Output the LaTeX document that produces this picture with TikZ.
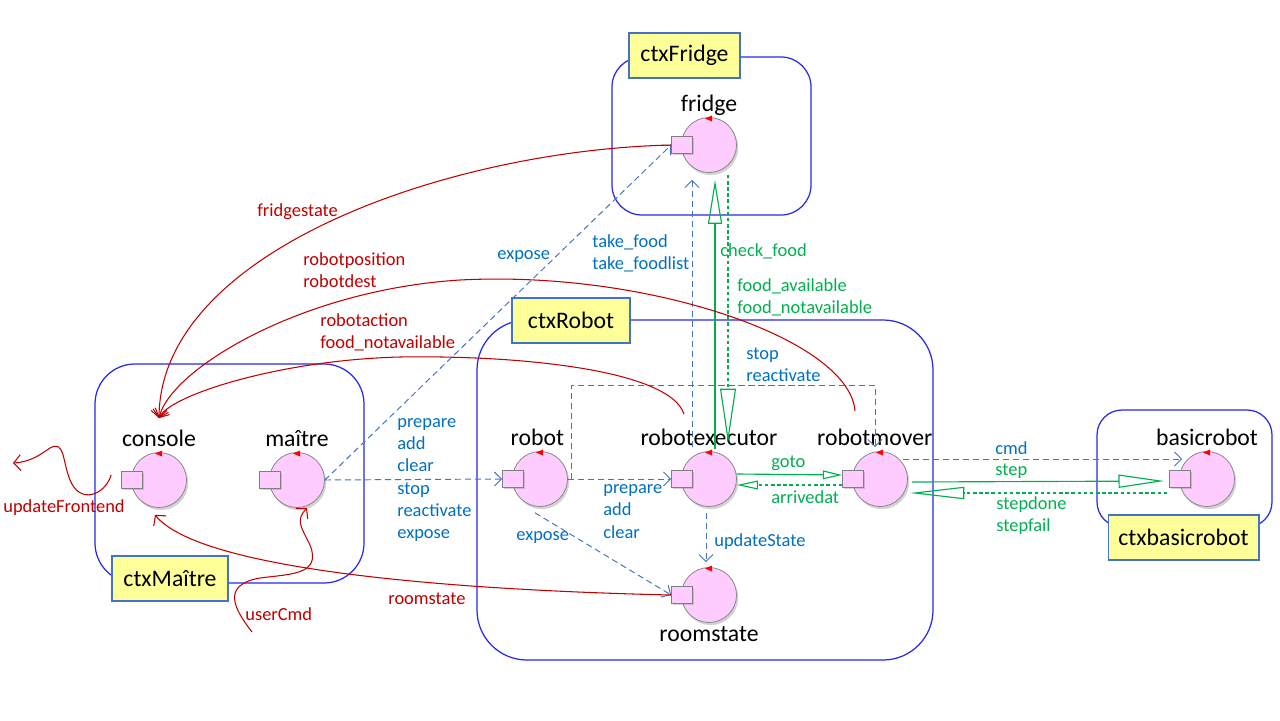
\documentclass[tikz,border=0pt]{standalone}
\usepackage{fontspec}
\setmainfont{Carlito}
\usetikzlibrary{positioning}
\usetikzlibrary{calc}
\usetikzlibrary{arrows.meta}
\usetikzlibrary{shadows}

\definecolor{ctxblue}{RGB}{40,40,235}
\definecolor{tagfill}{RGB}{255,255,153}
\definecolor{tagline}{RGB}{68,114,196}
\definecolor{actfill}{RGB}{255,204,255}
\definecolor{actline}{RGB}{127,127,127}
\definecolor{msgline}{RGB}{68,114,196}
\definecolor{msgtext}{RGB}{0,112,192}
\definecolor{evtgreen}{RGB}{0,176,80}
\definecolor{dispred}{RGB}{192,0,0}

\begin{document}
\begin{tikzpicture}[x=0.02cm, y=-0.02cm,
    actor/.style={circle, draw=actline, fill=actfill, minimum size=1.1cm, inner sep=0pt,
      drop shadow={shadow xshift=1pt, shadow yshift=-1.5pt, opacity=0.35}},
    port/.style={rectangle, draw=actline, fill=actfill, minimum width=0.42cm, minimum height=0.34cm, inner sep=0pt,
      drop shadow={shadow xshift=0.8pt, shadow yshift=-0.8pt, opacity=0.35}},
    actorname/.style={font=\fontsize{13.5}{16}\selectfont, inner sep=1pt, text depth=0.21em},
    ctx/.style={draw=ctxblue, line width=0.7pt},
    tag/.style={draw=tagline, fill=tagfill, font=\fontsize{13.5}{16}\selectfont, line width=0.6pt, inner sep=0pt, minimum height=0.9cm},
    txt/.style={font=\fontsize{10.5}{12.7}\selectfont, anchor=west, align=left, inner sep=0pt},
    msg/.style={draw=msgline, line width=0.55pt, dash pattern=on 3.5pt off 2.2pt, -{Straight Barb[length=4pt, width=8pt]}},
    evt/.style 2 args={draw=evtgreen, line width=0.65pt, -{Triangle[open, length=#1, width=#2]}},
    emit/.style 2 args={evt={#1}{#2}, dash pattern=on 2pt off 1.5pt},
    disp/.style={draw=dispred, line width=0.6pt, -{Straight Barb[length=4pt, width=9pt]}}]

        \path[fill=white] (0,0) rectangle (1280,720);
        \useasboundingbox (0,0) rectangle (1280,720);

        % contexts
        \draw[ctx, rounded corners=0.6cm] (612,57) rectangle (811,215);
        \draw[ctx, rounded corners=0.8cm] (95,364) rectangle (364,583);
        \draw[ctx, rounded corners=1cm] (477,320) rectangle (933,660);
        \draw[ctx, rounded corners=0.5cm] (1097,410) rectangle (1272,527);

        \node[tag, minimum width=2.22cm] (tag-fridge) at (684.5,55.5) {ctxFridge};
        \node[tag, minimum width=2.32cm] (tag-maitre) at (170,578.5) {ctxMaître};
        \node[tag, minimum width=2.36cm] (tag-robot) at (571,320.5) {ctxRobot};
        \node[tag, minimum width=3.02cm] (tag-basic) at (1183.5,537.5) {ctxbasicrobot};

        % actors
        \foreach \n/\x/\y in {fridge/709/145, console/159/480, maitre/297/480, robot/540/479,
                              executor/709/479, mover/880/479, roomstate/709/595, basicrobot/1207/479} {
          \node[actor] (\n) at (\x,\y) {};
          \node[port] (\n-port) at ($(\n)+(-27,0)$) {};
          \fill[red] ($(\n)+(-4,-26.5)$) -- ($(\n)+(3,-29.5)$) -- ($(\n)+(3,-23.5)$) -- cycle;
        }

        \node[actorname, above=0pt of fridge] (fridge-name) {fridge};
        \node[actorname, above=0pt of console] (console-name) {console};
        \node[actorname, above=0pt of maitre] (maitre-name) {maître};
        \node[actorname, above=0pt of robot, xshift=-1.5pt] (robot-name) {robot};
        \node[actorname, above=0pt of executor] (executor-name) {robotexecutor};
        \node[actorname, above=0pt of mover, xshift=-3pt] (mover-name) {robotmover};
        \node[actorname, above=0pt of basicrobot] (basicrobot-name) {basicrobot};
        \node[actorname, below=1pt of roomstate] (roomstate-name) {roomstate};

        \coordinate (user) at (252,632);
        \coordinate (frontend) at (13,463);

        % requests and dispatches
        \draw[msg] (maitre.east) -- (fridge-port.west);
        \draw[msg] (maitre.east) -- (robot-port.west);
        \draw[msg] ($(executor.north)+(-17,-4)$) -- ($(fridge.south)+(-17,7)$);
        \draw[msg] (robot.east) -- (executor-port.west);
        \draw[msg] ($(robot.east)+(4,0)$) |- ($(mover.north)+(-5,-66)$) -- ($(mover.north)+(-5,-4)$);
        \draw[msg] ($(robot.south)+(-5,6)$) -- (roomstate-port.west);
        \draw[msg] ($(executor.south)+(-3,6)$) -- ($(roomstate.north)+(-3,-5)$);
        \draw[msg] ($(mover.east)+(-5,-20)$) -- ($(basicrobot.west)+(3,-20)$);

        % events and replies
        \draw[evt={25pt}{8pt}] ($(executor.north)+(6,-2)$) -- ($(fridge.south)+(6,7)$);
        \draw[emit={31pt}{9pt}] ($(fridge.south)+(19,2)$) -- ($(executor.north)+(19,-8)$);
        \draw[evt={11pt}{5pt}] ($(executor.east)+(0,-5)$) -- ($(mover-port.west)+(0,-4)$);
        \draw[emit={12pt}{5pt}] ($(mover-port.west)+(0,6)$) -- ($(executor.east)+(0,6)$);
        \draw[evt={26pt}{7.5pt}] ($(mover.east)+(4,3)$) -- ($(basicrobot-port.west)+(-5,2)$);
        \draw[emit={31pt}{7pt}] ($(basicrobot-port.west)+(-2,14)$) -- ($(mover.east)+(2,14)$);

        % updates to the console
        \draw[disp] (fridge-port.west) .. controls (450,150) and (160,250) .. ($(console.north)+(0,-34)$);
        \draw[disp] ($(mover.north)+(-25,-40)$) .. controls (850,340) and (650,270) .. (460,280)
                    .. controls (300,290) and (170,370) .. ($(console.north)+(0,-34)$);
        \draw[disp] ($(executor.north)+(-25,-37)$) .. controls (670,370) and (520,355) .. (400,357)
                    .. controls (280,360) and (170,395) .. ($(console.north)+(0,-34)$);
        \draw[disp] (roomstate-port.west) .. controls (450,590) and (200,570) .. ($(console.south)+(-4,7)$);
        \draw[disp] (user) .. controls (235,610) and (220,585) .. (260,578)
                    .. controls (290,574) and (322,575) .. (310,545)
                    .. controls (300,525) and (296,520) .. ($(maitre.south)+(10,0)$);
        \draw[disp] ($(console-port.west)+(-10,-5)$) .. controls (105,495) and (80,505) .. (70,480)
                    .. controls (62,460) and (65,440) .. (50,448)
                    .. controls (40,455) and (30,462) .. (frontend);

        % labels
        \node[txt, dispred] (l-fridgestate) at (257,212) {fridgestate};
        \node[txt, dispred] (l-position) at (303,270.5) {robotposition\\robotdest};
        \node[txt, dispred] (l-action) at (320,332.5) {robotaction\\food\_notavailable};
        \node[txt, dispred] (l-roomstate) at (388,599) {roomstate};
        \node[txt, dispred] (l-user) at (245,614) {userCmd};
        \node[txt, dispred] (l-frontend) at (3,508) {updateFrontend};

        \node[txt, msgtext] (l-expose1) at (497,257) {expose};
        \node[txt, msgtext] (l-take) at (592,253.5) {take\_food\\take\_foodlist};
        \node[txt, msgtext] (l-stop) at (746,364.5) {stop\\reactivate};
        \node[txt, msgtext] (l-cmds) at (397,480) {prepare\\add\\clear\\stop\\reactivate\\expose};
        \node[txt, msgtext] (l-prepare) at (603,511.5) {prepare\\add\\clear};
        \node[txt, msgtext] (l-expose2) at (516,537) {expose};
        \node[txt, msgtext] (l-update) at (714,542) {updateState};
        \node[txt, msgtext] (l-cmd) at (995,448) {cmd};

        \node[txt, evtgreen] (l-check) at (720,251) {check\_food};
        \node[txt, evtgreen] (l-avail) at (737,297.5) {food\_available\\food\_notavailable};
        \node[txt, evtgreen] (l-goto) at (771,463) {goto};
        \node[txt, evtgreen] (l-arrived) at (771,497) {arrivedat};
        \node[txt, evtgreen] (l-step) at (995,471) {step};
        \node[txt, evtgreen] (l-done) at (996,515.5) {stepdone\\stepfail};

      \end{tikzpicture}
\end{document}
